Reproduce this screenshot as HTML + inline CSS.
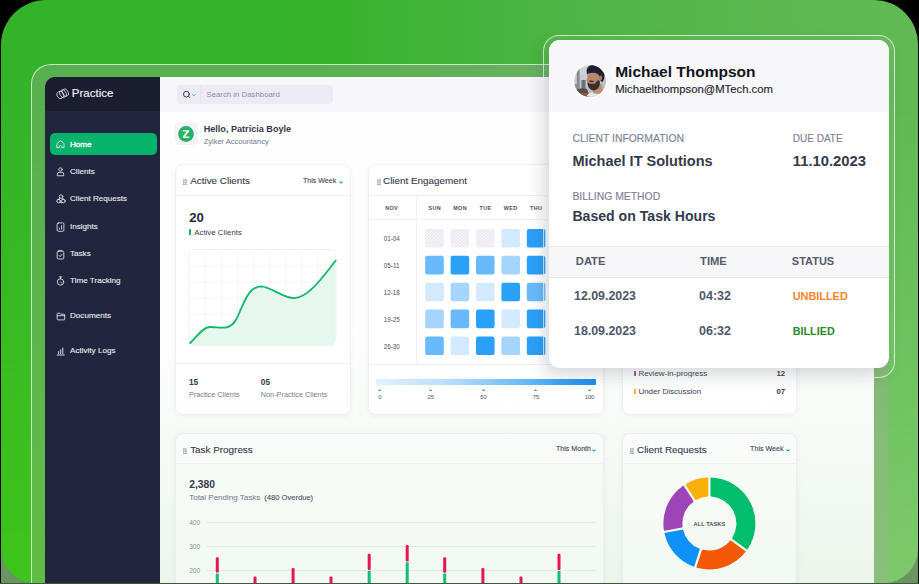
<!DOCTYPE html>
<html><head><meta charset="utf-8">
<style>
*{margin:0;padding:0;box-sizing:border-box;}
html,body{width:919px;height:584px;overflow:hidden;background:#000;}
body{position:relative;font-family:"Liberation Sans",sans-serif;}
.abs{position:absolute;}
.t{position:absolute;white-space:nowrap;line-height:1;}
svg{position:absolute;overflow:visible;}
</style></head>
<body>
<div class="abs" style="left:1px;top:546px;width:40px;height:37px;background:#6a9562;"></div><div class="abs" style="left:878px;top:546px;width:40px;height:37px;background:#6a9562;"></div><div class="abs" style="left:1px;top:0px;width:917px;height:583px;border-radius:45px 44px 34px 34px;background:linear-gradient(90deg,#33b32a 0%,#37b32c 35%,#4db545 62%,#5bb850 85%,#60b955 100%);"></div><div class="abs" style="left:1px;top:0px;width:917px;height:583px;border-radius:45px 44px 34px 34px;background:linear-gradient(90deg,#3ec41a 0%,#4fc532 35%,#6bc659 62%,#7ac869 85%,#7ec96c 100%);-webkit-mask-image:linear-gradient(180deg,transparent 0%,transparent 15%,#000 100%);"></div><div class="abs" style="left:31.3px;top:63.7px;width:857px;height:560px;border:1.2px solid rgba(255,255,255,0.68);border-right:none;border-radius:20px 0 0 0;background:rgba(172,170,166,0.3);"></div><div class="abs" style="left:45px;top:77px;width:829px;height:520px;border-radius:10px 10px 0 0;background:#fefefe;overflow:hidden;"></div><div class="abs" style="left:45px;top:77px;width:115px;height:520px;border-radius:10px 0 0 0;background:#21253d;"></div><div class="abs" style="left:45px;top:77px;width:115px;height:34px;border-radius:10px 0 0 0;background:#1a1e30;"></div><div class="t" style="left:71.80px;top:88.22px;font-size:11.5px;color:#f2f3f7;font-weight:normal;-webkit-text-stroke:0.15px #f2f3f7;">Practice</div><svg style="left:56px;top:88px" width="14" height="12" viewBox="0 0 14 12" fill="none" stroke="#e9eaf0" stroke-width="0.75">
<rect x="1.1" y="3.3" width="6.6" height="7.2" rx="3" transform="rotate(-30 4.4 6.9)"/>
<rect x="4" y="2" width="6" height="7.4" rx="2.6" transform="rotate(-30 7 5.7)"/>
<rect x="6.6" y="1" width="5.4" height="7.4" rx="2.4" transform="rotate(-30 9.3 4.7)"/>
</svg><div class="abs" style="left:49.5px;top:133.4px;width:107px;height:21.8px;border-radius:5px;background:#08b46d;"></div><div class="t" style="left:70.00px;top:140.52px;font-size:8.1px;color:#ffffff;font-weight:normal;-webkit-text-stroke:0.3px #ffffff;">Home</div><div class="t" style="left:70.00px;top:168.02px;font-size:8.1px;color:#e9ebf1;font-weight:normal;-webkit-text-stroke:0.12px #e9ebf1;">Clients</div><div class="t" style="left:70.00px;top:195.32px;font-size:8.1px;color:#e9ebf1;font-weight:normal;-webkit-text-stroke:0.12px #e9ebf1;">Client Requests</div><div class="t" style="left:70.00px;top:222.52px;font-size:8.1px;color:#e9ebf1;font-weight:normal;-webkit-text-stroke:0.12px #e9ebf1;">Insights</div><div class="t" style="left:70.00px;top:249.71px;font-size:8.1px;color:#e9ebf1;font-weight:normal;-webkit-text-stroke:0.12px #e9ebf1;">Tasks</div><div class="t" style="left:70.00px;top:277.01px;font-size:8.1px;color:#e9ebf1;font-weight:normal;-webkit-text-stroke:0.12px #e9ebf1;">Time Tracking</div><div class="t" style="left:70.00px;top:312.01px;font-size:8.1px;color:#e9ebf1;font-weight:normal;-webkit-text-stroke:0.12px #e9ebf1;">Documents</div><div class="t" style="left:70.00px;top:347.01px;font-size:8.1px;color:#e9ebf1;font-weight:normal;-webkit-text-stroke:0.12px #e9ebf1;">Activity Logs</div><svg style="left:56px;top:140px" width="9" height="9" viewBox="0 0 9 9" fill="none" stroke="#e6e8ef" stroke-width="0.85" stroke-linecap="round" stroke-linejoin="round">
<path d="M1 3.8 Q1 3.3 1.5 2.9 L4 1.1 Q4.5 0.8 5 1.1 L7.5 2.9 Q8 3.3 8 3.8 V7.6 H5.7 V6.8 Q5.7 5.6 4.5 5.6 Q3.3 5.6 3.3 6.8 V7.6 H1 Z"/></svg><svg style="left:56px;top:167px" width="9" height="9" viewBox="0 0 9 9" fill="none" stroke="#e6e8ef" stroke-width="0.85" stroke-linecap="round" stroke-linejoin="round">
<circle cx="4.5" cy="2.5" r="1.7"/><path d="M1.3 8.4 V7 Q1.3 5.4 3 5.4 H6 Q7.7 5.4 7.7 7 V8.4 Z"/></svg><svg style="left:56px;top:194px" width="10" height="10" viewBox="0 0 10 10" fill="none" stroke="#e6e8ef" stroke-width="0.85" stroke-linecap="round" stroke-linejoin="round">
<circle cx="5" cy="2.6" r="1.8"/><circle cx="2.6" cy="7" r="1.8"/><circle cx="7.4" cy="7" r="1.8"/><path d="M3.6 4.3 L2 6 M6.4 4.3 L8 6 M3.8 8.6 H6.2"/></svg><svg style="left:56px;top:221.5px" width="9" height="10" viewBox="0 0 9 10" fill="none" stroke="#e6e8ef" stroke-width="0.85" stroke-linecap="round" stroke-linejoin="round">
<rect x="1.1" y="0.9" width="6.8" height="8.4" rx="1.3"/><path d="M3.4 7.2 V6 M5.6 7.2 V3.6"/></svg><svg style="left:56px;top:249.5px" width="9" height="10" viewBox="0 0 9 10" fill="none" stroke="#e6e8ef" stroke-width="0.85" stroke-linecap="round" stroke-linejoin="round">
<rect x="1.2" y="1.2" width="6.6" height="7.8" rx="1.1"/><path d="M3.2 0.6 H5.8 M3 5.4 L4.2 6.6 L6 4.2"/></svg><svg style="left:56px;top:275.5px" width="9" height="10" viewBox="0 0 9 10" fill="none" stroke="#e6e8ef" stroke-width="0.85" stroke-linecap="round" stroke-linejoin="round">
<circle cx="4.5" cy="6" r="3.2"/><path d="M3.2 0.9 H5.8 M4.5 1 V2.8 M4.5 6 L5.6 7"/></svg><svg style="left:56px;top:311.5px" width="10" height="9" viewBox="0 0 10 9" fill="none" stroke="#e6e8ef" stroke-width="0.85" stroke-linecap="round" stroke-linejoin="round">
<path d="M1.2 1.8 Q1.2 1.2 1.8 1.2 H3.8 L4.7 2.2 H8 Q8.7 2.2 8.7 2.9 V7.2 Q8.7 7.9 8 7.9 H1.9 Q1.2 7.9 1.2 7.2 Z M1.2 3.7 H8.7"/></svg><svg style="left:56px;top:346.5px" width="9" height="9" viewBox="0 0 9 9" fill="none" stroke="#e6e8ef" stroke-width="0.85" stroke-linecap="round" stroke-linejoin="round">
<path d="M1.2 8 H8.2 M2.6 6.6 V4.6 M4.7 6.6 V2.8 M6.8 6.6 V1" stroke-width="0.95"/></svg><div class="abs" style="left:160px;top:77px;width:714px;height:35px;background:#f6f6fb;"></div><div class="abs" style="left:177px;top:84.5px;width:156px;height:19px;border-radius:4px;background:#ebebf3;"></div><div class="abs" style="left:200px;top:84.5px;width:0.7px;height:19px;background:#e3e3ec;"></div><svg style="left:182px;top:90px" width="16" height="9" viewBox="0 0 16 9" fill="none" stroke-linecap="round">
<circle cx="4.4" cy="4.2" r="2.9" stroke="#2c3142" stroke-width="0.95"/><path d="M6.5 6.3 L7.9 7.7" stroke="#2c3142" stroke-width="0.95"/>
<path d="M10.6 4.6 L11.8 5.8 L13 4.6" stroke="#2196f3" stroke-width="0.9"/></svg><div class="t" style="left:206.50px;top:90.97px;font-size:7.8px;color:#8a8d9d;font-weight:normal;">Search in Dashboard</div><div class="abs" style="left:175.4px;top:122.4px;width:22.2px;height:22.6px;border-radius:5px;background:#f2f2f7;"></div><svg style="left:178px;top:125.7px" width="16" height="16" viewBox="0 0 16 16">
<circle cx="8" cy="8" r="7.9" fill="#2bb166"/><path d="M4.9 4.2 H11.1 V5.6 L7.1 10.6 H11.2 V12 H4.8 V10.6 L8.8 5.6 H4.9 Z" fill="#fff"/></svg><div class="t" style="left:203.70px;top:124.57px;font-size:9.1px;color:#33384a;font-weight:bold;">Hello, Patricia Boyle</div><div class="t" style="left:203.70px;top:137.82px;font-size:7.5px;color:#727687;font-weight:normal;">Zylker Accountancy</div><div class="abs" style="left:160px;top:330px;width:714px;height:254px;background:linear-gradient(180deg,rgba(130,195,130,0) 0%,rgba(130,195,130,0.05) 35%,rgba(130,195,130,0.15) 100%);"></div><div class="abs" style="left:175px;top:164px;width:175.5px;height:251px;background:rgba(255,255,255,0.8);border:1px solid #eff0f4;border-radius:8px;box-shadow:0 1px 6px rgba(30,40,90,0.05);"></div><svg style="left:183px;top:178.5px" width="4" height="6" viewBox="0 0 4 6" fill="#8d91a0">
<rect x="0" y="0.4" width="1.7" height="1.2"/><rect x="2.1" y="0.4" width="1.7" height="1.2"/>
<rect x="0" y="2.5" width="1.7" height="1.2"/><rect x="2.1" y="2.5" width="1.7" height="1.2"/>
<rect x="0" y="4.6" width="1.7" height="1.2"/><rect x="2.1" y="4.6" width="1.7" height="1.2"/></svg><div class="t" style="left:190.20px;top:175.99px;font-size:9.9px;color:#343949;font-weight:normal;-webkit-text-stroke:0.1px #343949;">Active Clients</div><div class="t" style="right:582.70px;top:177.56px;font-size:7.1px;color:#3d4253;font-weight:normal;-webkit-text-stroke:0.1px #3d4253;">This Week</div><svg style="left:338.6px;top:181.2px" width="4" height="3" viewBox="0 0 4 3" fill="none" stroke="#2196f3" stroke-width="1.1" stroke-linecap="round"><path d="M0.7 0.9 L2 2.1 L3.3 0.9"/></svg><div class="abs" style="left:176px;top:195px;width:173.5px;height:1px;background:#f1f1f5;"></div><div class="t" style="left:189.20px;top:210.58px;font-size:13.2px;color:#262b3b;font-weight:bold;">20</div><div class="abs" style="left:189px;top:229px;width:2px;height:6px;background:#16b46e;border-radius:0.5px;"></div><div class="t" style="left:194.20px;top:228.59px;font-size:7.9px;color:#3b4050;font-weight:normal;">Active Clients</div><svg style="left:0;top:0" width="919" height="584" viewBox="0 0 919 584">
<rect x="188.8" y="249.5" width="147" height="96" rx="6" fill="#fff" stroke="#eceef3" stroke-width="0.8"/>
<g stroke="#f3f4f7" stroke-width="0.7"><path d="M205.3 249.5 V345.5" /><path d="M221.5 249.5 V345.5" /><path d="M237.5 249.5 V345.5" /><path d="M253.5 249.5 V345.5" /><path d="M269.5 249.5 V345.5" /><path d="M285.5 249.5 V345.5" /><path d="M301.5 249.5 V345.5" /><path d="M317.5 249.5 V345.5" /><path d="M189 266 H336" /><path d="M189 282 H336" /><path d="M189 298 H336" /><path d="M189 314 H336" /><path d="M189 330 H336" /></g>
<path d="M190.2 343 C197 336, 203 327.5, 209.5 327 C215 326.8, 219 328.2, 225 327.6 C230 327, 234 324, 237 318 C241 310, 245 296, 252 290 C255 287.5, 258 286.3, 261.4 286.3 C 270 286.5, 284 298.4, 294.1 298.2 C 308 298, 322 278, 335.6 260.7 V339.7 Q335.6 345.7 329.6 345.7 H196 Q190.2 345.7 190.2 340 Z" fill="#e6f7ee"/>
<path d="M190.2 343 C197 336, 203 327.5, 209.5 327 C215 326.8, 219 328.2, 225 327.6 C230 327, 234 324, 237 318 C241 310, 245 296, 252 290 C255 287.5, 258 286.3, 261.4 286.3 C 270 286.5, 284 298.4, 294.1 298.2 C 308 298, 322 278, 335.6 260.7" fill="none" stroke="#10b96a" stroke-width="1.8" stroke-linecap="round"/>
</svg><div class="abs" style="left:176px;top:363px;width:173.5px;height:1px;background:#f1f1f5;"></div><div class="t" style="left:188.90px;top:377.94px;font-size:8.3px;color:#343949;font-weight:bold;">15</div><div class="t" style="left:188.90px;top:391.19px;font-size:7.3px;color:#777b8c;font-weight:normal;">Practice Clients</div><div class="t" style="left:260.80px;top:377.94px;font-size:8.3px;color:#343949;font-weight:bold;">05</div><div class="t" style="left:260.80px;top:391.19px;font-size:7.3px;color:#777b8c;font-weight:normal;">Non-Practice Clients</div><div class="abs" style="left:367.6px;top:164px;width:236.5px;height:250.5px;background:rgba(255,255,255,0.8);border:1px solid #eff0f4;border-radius:8px;box-shadow:0 1px 6px rgba(30,40,90,0.05);"></div><svg style="left:376.5px;top:178.5px" width="4" height="6" viewBox="0 0 4 6" fill="#8d91a0">
<rect x="0" y="0.4" width="1.7" height="1.2"/><rect x="2.1" y="0.4" width="1.7" height="1.2"/>
<rect x="0" y="2.5" width="1.7" height="1.2"/><rect x="2.1" y="2.5" width="1.7" height="1.2"/>
<rect x="0" y="4.6" width="1.7" height="1.2"/><rect x="2.1" y="4.6" width="1.7" height="1.2"/></svg><div class="t" style="left:383.00px;top:175.99px;font-size:9.9px;color:#343949;font-weight:normal;-webkit-text-stroke:0.1px #343949;">Client Engagement</div><div class="abs" style="left:368.6px;top:195px;width:234px;height:1px;background:#f1f1f5;"></div><div class="abs" style="left:368.6px;top:219.3px;width:234px;height:0.8px;background:#f1f1f5;"></div><div class="abs" style="left:416.3px;top:195px;width:0.8px;height:169.5px;background:#f1f1f5;"></div><div class="abs" style="left:368.6px;top:364px;width:234px;height:0.8px;background:#f1f1f5;"></div><div class="t" style="left:391.60px;transform:translateX(-50%);top:206.01px;font-size:5.4px;color:#4a4f60;font-weight:bold;letter-spacing:0.4px;">NOV</div><div class="t" style="left:434.80px;transform:translateX(-50%);top:206.01px;font-size:5.4px;color:#4a4f60;font-weight:bold;letter-spacing:0.4px;">SUN</div><div class="t" style="left:460.10px;transform:translateX(-50%);top:206.01px;font-size:5.4px;color:#4a4f60;font-weight:bold;letter-spacing:0.4px;">MON</div><div class="t" style="left:485.50px;transform:translateX(-50%);top:206.01px;font-size:5.4px;color:#4a4f60;font-weight:bold;letter-spacing:0.4px;">TUE</div><div class="t" style="left:510.60px;transform:translateX(-50%);top:206.01px;font-size:5.4px;color:#4a4f60;font-weight:bold;letter-spacing:0.4px;">WED</div><div class="t" style="left:536.10px;transform:translateX(-50%);top:206.01px;font-size:5.4px;color:#4a4f60;font-weight:bold;letter-spacing:0.4px;">THU</div><div class="t" style="left:561.50px;transform:translateX(-50%);top:206.01px;font-size:5.4px;color:#4a4f60;font-weight:bold;letter-spacing:0.4px;">FRI</div><div class="t" style="left:587.00px;transform:translateX(-50%);top:206.01px;font-size:5.4px;color:#4a4f60;font-weight:bold;letter-spacing:0.4px;">SAT</div><div class="t" style="left:391.70px;transform:translateX(-50%);top:236.15px;font-size:6.3px;color:#4a4f60;font-weight:normal;">01-04</div><div class="t" style="left:391.70px;transform:translateX(-50%);top:263.04px;font-size:6.3px;color:#4a4f60;font-weight:normal;">05-11</div><div class="t" style="left:391.70px;transform:translateX(-50%);top:289.94px;font-size:6.3px;color:#4a4f60;font-weight:normal;">12-18</div><div class="t" style="left:391.70px;transform:translateX(-50%);top:316.84px;font-size:6.3px;color:#4a4f60;font-weight:normal;">19-25</div><div class="t" style="left:391.70px;transform:translateX(-50%);top:343.74px;font-size:6.3px;color:#4a4f60;font-weight:normal;">26-30</div><svg style="left:0;top:0" width="919" height="584" viewBox="0 0 919 584"><defs><pattern id="hatch" width="2.3" height="2.3" patternUnits="userSpaceOnUse" patternTransform="rotate(45)"><rect width="2.3" height="2.3" fill="#f6f6fa"/><rect width="0.9" height="2.3" fill="#e3e3ef"/></pattern></defs><rect x="425.2" y="228.9" width="18.6" height="18.6" rx="2.2" fill="url(#hatch)"/><rect x="450.6" y="228.9" width="18.6" height="18.6" rx="2.2" fill="url(#hatch)"/><rect x="476.0" y="228.9" width="18.6" height="18.6" rx="2.2" fill="url(#hatch)"/><rect x="501.4" y="228.9" width="18.6" height="18.6" rx="2.2" fill="#d3eafd"/><rect x="526.8" y="228.9" width="18.6" height="18.6" rx="2.2" fill="#2ba0f8"/><rect x="552.2" y="228.9" width="18.6" height="18.6" rx="2.2" fill="#69bafa"/><rect x="577.6" y="228.9" width="18.6" height="18.6" rx="2.2" fill="#a5d4fc"/><rect x="425.2" y="255.8" width="18.6" height="18.6" rx="2.2" fill="#69bafa"/><rect x="450.6" y="255.8" width="18.6" height="18.6" rx="2.2" fill="#2ba0f8"/><rect x="476.0" y="255.8" width="18.6" height="18.6" rx="2.2" fill="#69bafa"/><rect x="501.4" y="255.8" width="18.6" height="18.6" rx="2.2" fill="#a5d4fc"/><rect x="526.8" y="255.8" width="18.6" height="18.6" rx="2.2" fill="#2ba0f8"/><rect x="552.2" y="255.8" width="18.6" height="18.6" rx="2.2" fill="#d3eafd"/><rect x="577.6" y="255.8" width="18.6" height="18.6" rx="2.2" fill="#69bafa"/><rect x="425.2" y="282.7" width="18.6" height="18.6" rx="2.2" fill="#d3eafd"/><rect x="450.6" y="282.7" width="18.6" height="18.6" rx="2.2" fill="#a5d4fc"/><rect x="476.0" y="282.7" width="18.6" height="18.6" rx="2.2" fill="#d3eafd"/><rect x="501.4" y="282.7" width="18.6" height="18.6" rx="2.2" fill="#2ba0f8"/><rect x="526.8" y="282.7" width="18.6" height="18.6" rx="2.2" fill="#69bafa"/><rect x="552.2" y="282.7" width="18.6" height="18.6" rx="2.2" fill="#a5d4fc"/><rect x="577.6" y="282.7" width="18.6" height="18.6" rx="2.2" fill="#2ba0f8"/><rect x="425.2" y="309.6" width="18.6" height="18.6" rx="2.2" fill="#a5d4fc"/><rect x="450.6" y="309.6" width="18.6" height="18.6" rx="2.2" fill="#69bafa"/><rect x="476.0" y="309.6" width="18.6" height="18.6" rx="2.2" fill="#2ba0f8"/><rect x="501.4" y="309.6" width="18.6" height="18.6" rx="2.2" fill="#d3eafd"/><rect x="526.8" y="309.6" width="18.6" height="18.6" rx="2.2" fill="#2ba0f8"/><rect x="552.2" y="309.6" width="18.6" height="18.6" rx="2.2" fill="#69bafa"/><rect x="577.6" y="309.6" width="18.6" height="18.6" rx="2.2" fill="#d3eafd"/><rect x="425.2" y="336.5" width="18.6" height="18.6" rx="2.2" fill="#69bafa"/><rect x="450.6" y="336.5" width="18.6" height="18.6" rx="2.2" fill="#d3eafd"/><rect x="476.0" y="336.5" width="18.6" height="18.6" rx="2.2" fill="#2ba0f8"/><rect x="501.4" y="336.5" width="18.6" height="18.6" rx="2.2" fill="#a5d4fc"/><rect x="526.8" y="336.5" width="18.6" height="18.6" rx="2.2" fill="#2ba0f8"/><rect x="552.2" y="336.5" width="18.6" height="18.6" rx="2.2" fill="#a5d4fc"/><rect x="577.6" y="336.5" width="18.6" height="18.6" rx="2.2" fill="#69bafa"/></svg><div class="abs" style="left:376px;top:378.9px;width:220px;height:6.5px;border-radius:1px;background:linear-gradient(90deg,#e4f2fe 0%,#b5dcfd 35%,#5fb6fb 70%,#1b8ef0 100%);"></div><svg style="left:378.2px;top:389px" width="3.2" height="2" viewBox="0 0 3.2 2"><path d="M0 2 L1.6 0.2 L3.2 2 Z" fill="#1e88e5"/></svg><div class="t" style="left:379.80px;transform:translateX(-50%);top:394.57px;font-size:5.8px;color:#4a4f60;font-weight:normal;">0</div><svg style="left:429.1px;top:389px" width="3.2" height="2" viewBox="0 0 3.2 2"><path d="M0 2 L1.6 0.2 L3.2 2 Z" fill="#1e88e5"/></svg><div class="t" style="left:430.70px;transform:translateX(-50%);top:394.57px;font-size:5.8px;color:#4a4f60;font-weight:normal;">25</div><svg style="left:481.9px;top:389px" width="3.2" height="2" viewBox="0 0 3.2 2"><path d="M0 2 L1.6 0.2 L3.2 2 Z" fill="#1e88e5"/></svg><div class="t" style="left:483.50px;transform:translateX(-50%);top:394.57px;font-size:5.8px;color:#4a4f60;font-weight:normal;">50</div><svg style="left:534.4px;top:389px" width="3.2" height="2" viewBox="0 0 3.2 2"><path d="M0 2 L1.6 0.2 L3.2 2 Z" fill="#1e88e5"/></svg><div class="t" style="left:536.00px;transform:translateX(-50%);top:394.57px;font-size:5.8px;color:#4a4f60;font-weight:normal;">75</div><svg style="left:587.9px;top:389px" width="3.2" height="2" viewBox="0 0 3.2 2"><path d="M0 2 L1.6 0.2 L3.2 2 Z" fill="#1e88e5"/></svg><div class="t" style="left:589.50px;transform:translateX(-50%);top:394.57px;font-size:5.8px;color:#4a4f60;font-weight:normal;">100</div><div class="abs" style="left:621.5px;top:164px;width:175.5px;height:250.5px;background:rgba(255,255,255,0.8);border:1px solid #eff0f4;border-radius:8px;box-shadow:0 1px 6px rgba(30,40,90,0.05);"></div><div class="abs" style="left:634.3px;top:371.2px;width:1.6px;height:5px;background:#a23fc0;border-radius:0.5px;"></div><div class="t" style="left:638.40px;top:369.80px;font-size:8px;color:#3b4050;font-weight:normal;">Review-in-progress</div><div class="t" style="right:133.90px;top:369.97px;font-size:7.8px;color:#343949;font-weight:bold;">12</div><div class="abs" style="left:634.3px;top:389.1px;width:1.6px;height:5px;background:#f5b214;border-radius:0.5px;"></div><div class="t" style="left:638.40px;top:387.70px;font-size:8px;color:#3b4050;font-weight:normal;">Under Discussion</div><div class="t" style="right:133.90px;top:387.87px;font-size:7.8px;color:#343949;font-weight:bold;">07</div><div class="abs" style="left:175px;top:432.5px;width:429.3px;height:200px;background:rgba(255,255,255,0.3);border:1px solid rgba(228,232,238,0.7);border-radius:8px;box-shadow:0 1px 6px rgba(30,40,90,0.05);"></div><svg style="left:183px;top:447.5px" width="4" height="6" viewBox="0 0 4 6" fill="#8d91a0">
<rect x="0" y="0.4" width="1.7" height="1.2"/><rect x="2.1" y="0.4" width="1.7" height="1.2"/>
<rect x="0" y="2.5" width="1.7" height="1.2"/><rect x="2.1" y="2.5" width="1.7" height="1.2"/>
<rect x="0" y="4.6" width="1.7" height="1.2"/><rect x="2.1" y="4.6" width="1.7" height="1.2"/></svg><div class="t" style="left:190.20px;top:444.88px;font-size:9.9px;color:#343949;font-weight:normal;-webkit-text-stroke:0.1px #343949;">Task Progress</div><div class="t" style="right:328.00px;top:446.26px;font-size:7.1px;color:#3d4253;font-weight:normal;-webkit-text-stroke:0.1px #3d4253;">This Month</div><svg style="left:592.4px;top:449.3px" width="4" height="3" viewBox="0 0 4 3" fill="none" stroke="#2196f3" stroke-width="1.1" stroke-linecap="round"><path d="M0.7 0.9 L2 2.1 L3.3 0.9"/></svg><div class="abs" style="left:176px;top:463px;width:427px;height:1px;background:#f1f1f5;"></div><div class="t" style="left:189.20px;top:479.85px;font-size:10.3px;color:#343949;font-weight:bold;">2,380</div><div class="t" style="left:189.20px;top:493.90px;font-size:8px;color:#6f7385;font-weight:normal;">Total Pending Tasks</div><div class="t" style="left:264.20px;top:494.04px;font-size:7.6px;color:#4a4f60;font-weight:normal;-webkit-text-stroke:0.1px #4a4f60;">(480 Overdue)</div><div class="t" style="left:189.20px;top:519.98px;font-size:6.5px;color:#8a8e9c;font-weight:normal;">400</div><div class="abs" style="left:207px;top:521.8000000000001px;width:389px;height:0.8px;background:rgba(205,212,210,0.4);"></div><div class="t" style="left:189.20px;top:544.17px;font-size:6.5px;color:#8a8e9c;font-weight:normal;">300</div><div class="abs" style="left:207px;top:546.0px;width:389px;height:0.8px;background:rgba(205,212,210,0.4);"></div><div class="t" style="left:189.20px;top:568.27px;font-size:6.5px;color:#8a8e9c;font-weight:normal;">200</div><div class="abs" style="left:207px;top:570.1px;width:389px;height:0.8px;background:rgba(205,212,210,0.4);"></div><svg style="left:0;top:0" width="919" height="584" viewBox="0 0 919 584"><rect x="215.8" y="557.2" width="3" height="15.4" rx="1.2" fill="#e6145a"/><rect x="215.8" y="573.5" width="3" height="30" rx="0.6" fill="#13bf74"/><rect x="253.5" y="576.4" width="3" height="12.7" rx="1.2" fill="#e6145a"/><rect x="253.5" y="590" width="3" height="30" rx="0.6" fill="#13bf74"/><rect x="291.6" y="568" width="3" height="21.1" rx="1.2" fill="#e6145a"/><rect x="291.6" y="590" width="3" height="30" rx="0.6" fill="#13bf74"/><rect x="329.5" y="576.4" width="3" height="12.7" rx="1.2" fill="#e6145a"/><rect x="329.5" y="590" width="3" height="30" rx="0.6" fill="#13bf74"/><rect x="367.7" y="553.8" width="3" height="16.1" rx="1.2" fill="#e6145a"/><rect x="367.7" y="570.8" width="3" height="30" rx="0.6" fill="#13bf74"/><rect x="405.7" y="545" width="3" height="16.4" rx="1.2" fill="#e6145a"/><rect x="405.7" y="562.3" width="3" height="30" rx="0.6" fill="#13bf74"/><rect x="443.2" y="557.2" width="3" height="15.5" rx="1.2" fill="#e6145a"/><rect x="443.2" y="573.6" width="3" height="30" rx="0.6" fill="#13bf74"/><rect x="481.4" y="568" width="3" height="21.1" rx="1.2" fill="#e6145a"/><rect x="481.4" y="590" width="3" height="30" rx="0.6" fill="#13bf74"/><rect x="519.5" y="576.4" width="3" height="12.7" rx="1.2" fill="#e6145a"/><rect x="519.5" y="590" width="3" height="30" rx="0.6" fill="#13bf74"/><rect x="557.5" y="553.8" width="3" height="16.3" rx="1.2" fill="#e6145a"/><rect x="557.5" y="571" width="3" height="30" rx="0.6" fill="#13bf74"/></svg><div class="abs" style="left:621.5px;top:432.5px;width:175.3px;height:200px;background:rgba(255,255,255,0.3);border:1px solid rgba(228,232,238,0.7);border-radius:8px;box-shadow:0 1px 6px rgba(30,40,90,0.05);"></div><svg style="left:629.8px;top:447.5px" width="4" height="6" viewBox="0 0 4 6" fill="#8d91a0">
<rect x="0" y="0.4" width="1.7" height="1.2"/><rect x="2.1" y="0.4" width="1.7" height="1.2"/>
<rect x="0" y="2.5" width="1.7" height="1.2"/><rect x="2.1" y="2.5" width="1.7" height="1.2"/>
<rect x="0" y="4.6" width="1.7" height="1.2"/><rect x="2.1" y="4.6" width="1.7" height="1.2"/></svg><div class="t" style="left:637.00px;top:445.08px;font-size:9.9px;color:#343949;font-weight:normal;-webkit-text-stroke:0.1px #343949;">Client Requests</div><div class="t" style="right:135.50px;top:446.26px;font-size:7.1px;color:#3d4253;font-weight:normal;-webkit-text-stroke:0.1px #3d4253;">This Week</div><svg style="left:785.6px;top:449.3px" width="4" height="3" viewBox="0 0 4 3" fill="none" stroke="#2196f3" stroke-width="1.1" stroke-linecap="round"><path d="M0.7 0.9 L2 2.1 L3.3 0.9"/></svg><div class="abs" style="left:622.5px;top:463px;width:173.3px;height:1px;background:#eef0f3;"></div><svg style="left:0;top:0" width="919" height="584" viewBox="0 0 919 584"><path d="M711.30 478.34 A45.2 45.2 0 0 1 747.05 548.51 L732.95 538.27 A27.8 27.8 0 0 0 711.30 495.76 Z" fill="#02bd6c" stroke="#02bd6c" stroke-width="1.6" stroke-linejoin="round"/><path d="M744.82 551.58 A45.2 45.2 0 0 1 697.25 567.04 L702.63 550.46 A27.8 27.8 0 0 0 730.72 541.34 Z" fill="#f25806" stroke="#f25806" stroke-width="1.6" stroke-linejoin="round"/><path d="M693.64 565.86 A45.2 45.2 0 0 1 665.34 533.60 L682.48 530.42 A27.8 27.8 0 0 0 699.02 549.29 Z" fill="#0c92f8" stroke="#0c92f8" stroke-width="1.6" stroke-linejoin="round"/><path d="M664.65 529.86 A45.2 45.2 0 0 1 683.21 486.66 L692.70 501.27 A27.8 27.8 0 0 0 681.78 526.69 Z" fill="#9d45b8" stroke="#9d45b8" stroke-width="1.6" stroke-linejoin="round"/><path d="M686.40 484.59 A45.2 45.2 0 0 1 707.50 478.34 L707.50 495.76 A27.8 27.8 0 0 0 695.89 499.21 Z" fill="#f9b10a" stroke="#f9b10a" stroke-width="1.6" stroke-linejoin="round"/></svg><div class="t" style="left:709.40px;transform:translateX(-50%);top:521.84px;font-size:5.6px;color:#4a4f62;font-weight:bold;letter-spacing:0.1px;">ALL TASKS</div><div class="abs" style="left:0px;top:582.6px;width:919px;height:1.4px;background:#40583a;"></div><div class="abs" style="left:543px;top:34.5px;width:352px;height:343px;border:1.3px solid rgba(255,255,255,0.7);border-radius:16px;background:rgba(255,255,255,0.06);"></div><div class="abs" style="left:548.5px;top:40px;width:340px;height:327.5px;border-radius:11px;background:#fff;box-shadow:-5px 7px 18px rgba(20,25,40,0.17);overflow:hidden;"></div><div class="abs" style="left:548.5px;top:40px;width:340px;height:72.3px;border-radius:11px 11px 0 0;background:#f7f7fa;"></div><svg style="left:571px;top:62px" width="38" height="38" viewBox="0 0 38 38">
<defs><clipPath id="av"><circle cx="19.1" cy="18.9" r="15.9"/></clipPath>
<linearGradient id="avbg" x1="0" y1="0" x2="0.3" y2="1"><stop offset="0" stop-color="#dcdee1"/><stop offset="1" stop-color="#b4b8bd"/></linearGradient></defs>
<circle cx="19.1" cy="18.9" r="17.2" fill="#fff"/>
<g clip-path="url(#av)">
<rect x="0" y="0" width="38" height="38" fill="url(#avbg)"/>
<rect x="5.8" y="7" width="2.8" height="22" fill="#868b91"/>
<rect x="10.5" y="18" width="4" height="12" fill="#6a7179"/>
<rect x="2" y="22" width="4" height="10" fill="#8c9197"/>
<path d="M4 38 L5 28 Q10 25 16 27 L20 38 Z" fill="#5a4b45"/>
<path d="M10 31 H18 V35 H9 Z" fill="#8a5a45"/>
<path d="M14 38 Q16 30 24 29.5 Q33 29 36 33 L36 38 Z" fill="#e4e5e8"/>
<path d="M21 23 L31 22 L32 31 Q27 33 22 31 Z" fill="#bb8f75"/>
<path d="M16.2 11 Q17 6.5 22 6.5 Q28 6.8 28.5 13 L28.8 19 Q28 25.5 22.5 26.5 Q18 26.5 16.8 21 L15.3 18 L16.4 16.5 Z" fill="#b8876b"/>
<path d="M16.5 20 Q17.5 22 20 21.8 Q22 21 23.5 22 L26 19 Q28 17 29 20 Q29 27 23 28.5 Q18 28 16.6 23 Z" fill="#3a2e2b"/>
<path d="M18.5 19.4 Q20.5 18.8 22.5 19.6" stroke="#2a201d" stroke-width="1.1" fill="none"/>
<path d="M15.5 9 Q16 2.5 24 2.8 Q33 3 33.5 11 Q34 17 31.5 20 L29.5 19 Q29 14 27 12 Q24 10.5 21 10.8 Q17.5 11 16 12 Z" fill="#1c2030"/>
<ellipse cx="29.5" cy="16" rx="1.6" ry="2.4" fill="#a87a62"/>
</g></svg><div class="t" style="left:615.20px;top:64.23px;font-size:15.5px;color:#121419;font-weight:bold;">Michael Thompson</div><div class="t" style="left:615.20px;top:84.30px;font-size:11.3px;color:#23262f;font-weight:normal;-webkit-text-stroke:0.15px #23262f;">Michaelthompson@MTech.com</div><div class="t" style="left:572.40px;top:133.76px;font-size:10.4px;color:#7d8293;font-weight:normal;-webkit-text-stroke:0.15px #7d8293;">CLIENT INFORMATION</div><div class="t" style="left:572.40px;top:153.68px;font-size:14.5px;color:#343a4c;font-weight:bold;">Michael IT Solutions</div><div class="t" style="left:792.80px;top:133.60px;font-size:10px;color:#7d8293;font-weight:normal;-webkit-text-stroke:0.15px #7d8293;">DUE DATE</div><div class="t" style="left:792.80px;top:153.52px;font-size:14.8px;color:#343a4c;font-weight:bold;">11.10.2023</div><div class="t" style="left:572.40px;top:192.26px;font-size:10.4px;color:#7d8293;font-weight:normal;-webkit-text-stroke:0.15px #7d8293;">BILLING METHOD</div><div class="t" style="left:572.40px;top:208.51px;font-size:14.1px;color:#343a4c;font-weight:bold;">Based on Task Hours</div><div class="abs" style="left:548.5px;top:245.8px;width:340px;height:32.2px;background:#f7f7fa;border-top:1px solid #e6e7eb;border-bottom:1px solid #e6e7eb;"></div><div class="t" style="left:575.80px;top:255.98px;font-size:11.2px;color:#555b6d;font-weight:bold;">DATE</div><div class="t" style="left:700.10px;top:255.98px;font-size:11.2px;color:#555b6d;font-weight:bold;">TIME</div><div class="t" style="left:791.80px;top:256.15px;font-size:11px;color:#555b6d;font-weight:bold;">STATUS</div><div class="t" style="left:574.00px;top:290.06px;font-size:12.4px;color:#50566a;font-weight:bold;">12.09.2023</div><div class="t" style="left:699.00px;top:289.98px;font-size:12.5px;color:#50566a;font-weight:bold;">04:32</div><div class="t" style="left:792.70px;top:290.54px;font-size:10.9px;color:#f7852a;font-weight:bold;">UNBILLED</div><div class="t" style="left:574.00px;top:324.96px;font-size:12.4px;color:#50566a;font-weight:bold;">18.09.2023</div><div class="t" style="left:699.00px;top:324.88px;font-size:12.5px;color:#50566a;font-weight:bold;">06:32</div><div class="t" style="left:792.70px;top:325.52px;font-size:10.8px;color:#2b8a2b;font-weight:bold;">BILLIED</div></body></html>
